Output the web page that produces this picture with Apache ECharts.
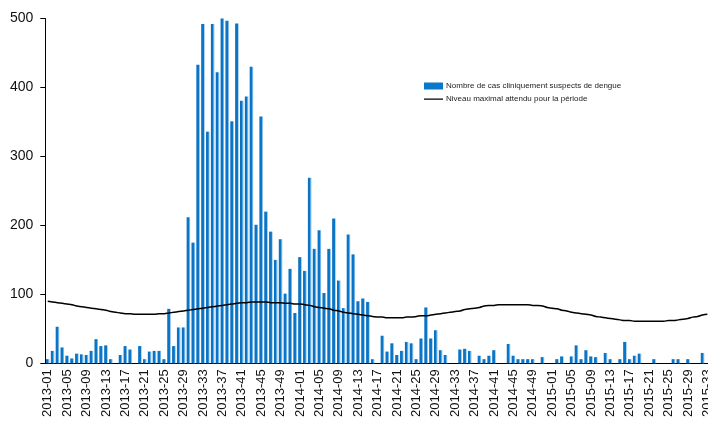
<!DOCTYPE html>
<html>
<head>
<meta charset="utf-8">
<script src="https://cdn.jsdelivr.net/npm/echarts@6/dist/echarts.min.js"></script>
<style>
html,body{margin:0;padding:0;background:#fff;}
#chart{width:708px;height:424px;}
</style>
</head>
<body>
<div id="chart"></div>
<script>
// Week categories 2013-01 .. 2015-33
const weeks = [];
for (const [yr, n] of [[2013, 52], [2014, 52], [2015, 33]]) {
  for (let w = 1; w <= n; w++) weeks.push(yr + '-' + (w < 10 ? '0' + w : '' + w));
}

const casesSeriesName = 'Nombre de cas cliniquement suspects de dengue';
const thresholdSeriesName = 'Niveau maximal attendu pour la période';

const cases = [
  6, 18, 53, 23, 11, 7, 14, 13, 12, 18, 35, 25, 26, 6, 0, 12, 25, 20, 0, 25,
  6, 17, 18, 18, 6, 79, 25, 52, 52, 212, 175, 433, 492, 336, 492, 422, 500, 497, 351, 493,
  381, 387, 430, 201, 358, 220, 191, 150, 180, 101, 137, 73, 154, 134, 269, 166, 193, 102, 166, 210,
  120, 80, 187, 158, 90, 94, 89, 6, 0, 40, 17, 29, 12, 18, 31, 29, 6, 36, 81, 36,
  48, 19, 12, 0, 0, 20, 21, 18, 0, 11, 6, 11, 19, 0, 0, 28, 11, 6, 6, 6,
  6, 0, 9, 0, 0, 6, 10, 0, 10, 26, 6, 19, 10, 9, 0, 15, 6, 0, 6, 31,
  6, 11, 14, 0, 0, 6, 0, 0, 0, 6, 6, 0, 6, 0, 0, 15, 0
];

const threshold = [
  90, 89, 88, 87, 86, 85, 83, 82, 81, 80, 79, 78, 77, 75, 74, 73, 72, 72, 71, 71,
  71, 71, 71, 72, 72, 73, 74, 75, 76, 77, 78, 79, 80, 81, 82, 83, 84, 85, 86, 87,
  88, 88, 89, 89, 89, 89, 88, 88, 88, 87, 87, 86, 86, 85, 84, 82, 81, 80, 79, 77,
  76, 74, 73, 72, 71, 70, 69, 68, 67, 67, 66, 66, 66, 66, 67, 67, 68, 69, 69, 70,
  71, 72, 73, 74, 75, 76, 78, 79, 80, 81, 83, 84, 84, 85, 85, 85, 85, 85, 85, 85,
  84, 84, 83, 81, 80, 79, 77, 76, 74, 73, 72, 71, 70, 68, 67, 66, 65, 64, 63, 62,
  62, 61, 61, 61, 61, 61, 61, 61, 62, 62, 63, 64, 65, 67, 68, 70, 71
];

const yTicks = [0, 100, 200, 300, 400, 500];

const chart = echarts.init(document.getElementById('chart'), null, {renderer: 'canvas'});
const barColor = new echarts.graphic.LinearGradient(0, 0, 1, 0, [
  {offset: 0, color: '#0a70c0'},
  {offset: 0.68, color: '#0a78c8'},
  {offset: 0.72, color: '#5fa9e4'},
  {offset: 1, color: '#8cc0ec'}
]);

chart.setOption({
  animation: false,
  backgroundColor: '#ffffff',
  textStyle: {fontFamily: 'Liberation Sans, Arial, sans-serif'},
  grid: {left: 45.3, top: 18.6, width: 664.5, bottom: 60.7, containLabel: false, outerBoundsMode: 'none'},
  legend: {
    orient: 'vertical',
    left: 424,
    top: 82,
    padding: 0,
    itemWidth: 19,
    itemHeight: 7,
    itemGap: 5,
    textStyle: {fontSize: 8, color: '#222', fontFamily: 'Liberation Sans, Arial, sans-serif', padding: [0, 0, 0, -2]},
    data: [
      {name: casesSeriesName, icon: 'rect', itemStyle: {color: '#0a78c8'}},
      {name: thresholdSeriesName, icon: 'path://M0,0H0.01V0.01H0Z M0,2.9H20V4.3H0Z M0,7H0.01V7.01H0Z', itemStyle: {color: '#000'}}
    ]
  },
  xAxis: {
    type: 'category',
    data: weeks,
    boundaryGap: true,
    axisLine: {lineStyle: {color: '#000', width: 1}},
    axisTick: {interval: 1, length: 4, lineStyle: {color: '#000'}},
    axisLabel: {
      interval: 3,
      rotate: 90,
      fontSize: 13,
      color: '#111',
      margin: 6,
      fontFamily: 'Liberation Sans, Arial, sans-serif'
    },
    splitLine: {show: false}
  },
  yAxis: {
    type: 'value',
    min: yTicks[0],
    max: yTicks[yTicks.length - 1],
    interval: 100,
    axisLine: {show: true, lineStyle: {color: '#000', width: 1}},
    axisTick: {show: true, length: 5, lineStyle: {color: '#000'}},
    axisLabel: {fontSize: 14, color: '#111', margin: 12, fontFamily: 'Liberation Sans, Arial, sans-serif'},
    splitLine: {show: false}
  },
  series: [
    {
      name: casesSeriesName,
      type: 'bar',
      data: cases,
      barWidth: 3.5,
      itemStyle: {color: barColor},
      z: 2
    },
    {
      name: thresholdSeriesName,
      type: 'line',
      data: threshold,
      smooth: true,
      symbol: 'none',
      lineStyle: {color: '#000', width: 1.5},
      itemStyle: {color: '#000'},
      z: 3
    }
  ]
});
</script>
</body>
</html>
